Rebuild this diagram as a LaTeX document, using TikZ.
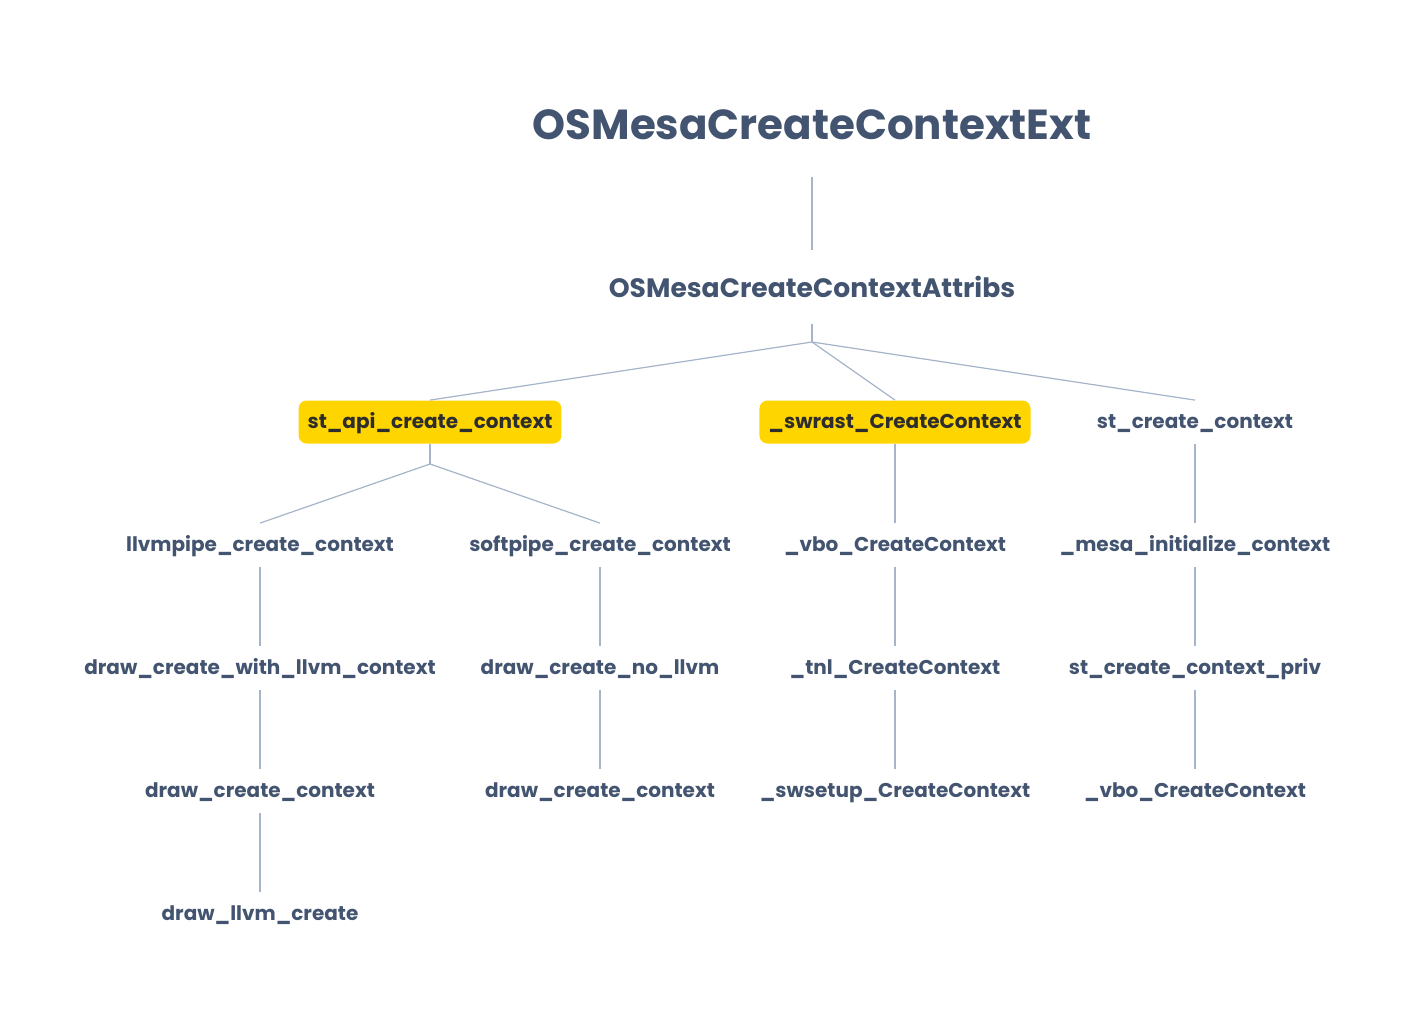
\documentclass[tikz,border=0pt]{standalone}
\usepackage{fontspec}
\setmainfont{Poppins}
\usetikzlibrary{positioning, calc}
\definecolor{clrTx}{RGB}{ 67, 84,112}
\definecolor{clrDk}{RGB}{ 45, 45, 45}
\definecolor{clrHl}{RGB}{255,213,  0}
\definecolor{clrLn}{RGB}{165,180,200}

\begin{document}
\begin{tikzpicture}[x=0.5pt, y=-0.5pt,
  %% ── node styles ──────────────────────────────────────────────────────────
  rootnode/.style = {inner sep=0pt, minimum height=52pt, text=clrTx,
                     font=\fontsize{21}{25}\selectfont\bfseries},
  subnode/.style  = {inner sep=0pt, minimum height=36.5pt, text=clrTx,
                     font=\fontsize{13.3}{16}\selectfont\bfseries},
  fnode/.style    = {inner xsep=4.5pt, inner ysep=0pt, minimum height=21.5pt,
                     text height=8.3pt, text depth=1.5pt,
                     text=clrTx, font=\fontsize{10}{12}\selectfont\bfseries},
  hnode/.style    = {fnode, fill=clrHl, rounded corners=4pt, text=clrDk},
  %% ── connector style ──────────────────────────────────────────────────────
  conn/.style     = {draw=clrLn, line width=0.6pt},
]
\useasboundingbox (0,0) rectangle (1414,1012);

%% ═══════════════════════════════════════════════════════════════════════════
%% TOP: entry point and attribs variant
%% ═══════════════════════════════════════════════════════════════════════════
\node[rootnode] (ext)     at (812,125) {OSMesaCreateContextExt};
\node[subnode]  (attribs) at (812,287) {OSMesaCreateContextAttribs};
\draw[conn] (ext) -- (attribs);

%% ═══════════════════════════════════════════════════════════════════════════
%% LEVEL 2 (y = 422)
%% ═══════════════════════════════════════════════════════════════════════════
\node[hnode] (stapi)   at (430,422)  {st\_api\_create\_context};
\node[hnode] (swrast)  at (895,422)  {\_swrast\_CreateContext};
\node[fnode] (stcreate) at (1195,422) {st\_create\_context};

\coordinate (forkA) at (812,342);
\draw[conn] (attribs) -- (forkA);
\draw[conn] (forkA) -- (stapi.north);
\draw[conn] (forkA) -- (swrast.north);
\draw[conn] (forkA) -- (stcreate.north);

%% ═══════════════════════════════════════════════════════════════════════════
%% LEVEL 3 (y = 545)
%% ═══════════════════════════════════════════════════════════════════════════
\node[fnode] (llvmpipe) at (260,545)  {llvmpipe\_create\_context};
\node[fnode] (softpipe) at (600,545)  {softpipe\_create\_context};
\node[fnode] (vboA)     at (895,545)  {\_vbo\_CreateContext};
\node[fnode] (mesainit) at (1195,545) {\_mesa\_initialize\_context};

\coordinate (forkB) at (430,464);
\draw[conn] (stapi) -- (forkB);
\draw[conn] (forkB) -- (llvmpipe.north);
\draw[conn] (forkB) -- (softpipe.north);
\draw[conn] (swrast) -- (vboA);
\draw[conn] (stcreate) -- (mesainit);

%% ═══════════════════════════════════════════════════════════════════════════
%% LEVEL 4 (y = 668)
%% ═══════════════════════════════════════════════════════════════════════════
\node[fnode] (withllvm) at (260,668)  {draw\_create\_with\_llvm\_context};
\node[fnode] (nollvm)   at (600,668)  {draw\_create\_no\_llvm};
\node[fnode] (tnl)      at (895,668)  {\_tnl\_CreateContext};
\node[fnode] (stpriv)   at (1195,668) {st\_create\_context\_priv};

\draw[conn] (llvmpipe) -- (withllvm);
\draw[conn] (softpipe) -- (nollvm);
\draw[conn] (vboA)     -- (tnl);
\draw[conn] (mesainit) -- (stpriv);

%% ═══════════════════════════════════════════════════════════════════════════
%% LEVEL 5 (y = 791)
%% ═══════════════════════════════════════════════════════════════════════════
\node[fnode] (drawctxA) at (260,791)  {draw\_create\_context};
\node[fnode] (drawctxB) at (600,791)  {draw\_create\_context};
\node[fnode] (swsetup)  at (895,791)  {\_swsetup\_CreateContext};
\node[fnode] (vboB)     at (1195,791) {\_vbo\_CreateContext};

\draw[conn] (withllvm) -- (drawctxA);
\draw[conn] (nollvm)   -- (drawctxB);
\draw[conn] (tnl)      -- (swsetup);
\draw[conn] (stpriv)   -- (vboB);

%% ═══════════════════════════════════════════════════════════════════════════
%% LEVEL 6 (y = 914)
%% ═══════════════════════════════════════════════════════════════════════════
\node[fnode] (llvmcreate) at (260,914) {draw\_llvm\_create};
\draw[conn] (drawctxA) -- (llvmcreate);

\end{tikzpicture}
\end{document}
